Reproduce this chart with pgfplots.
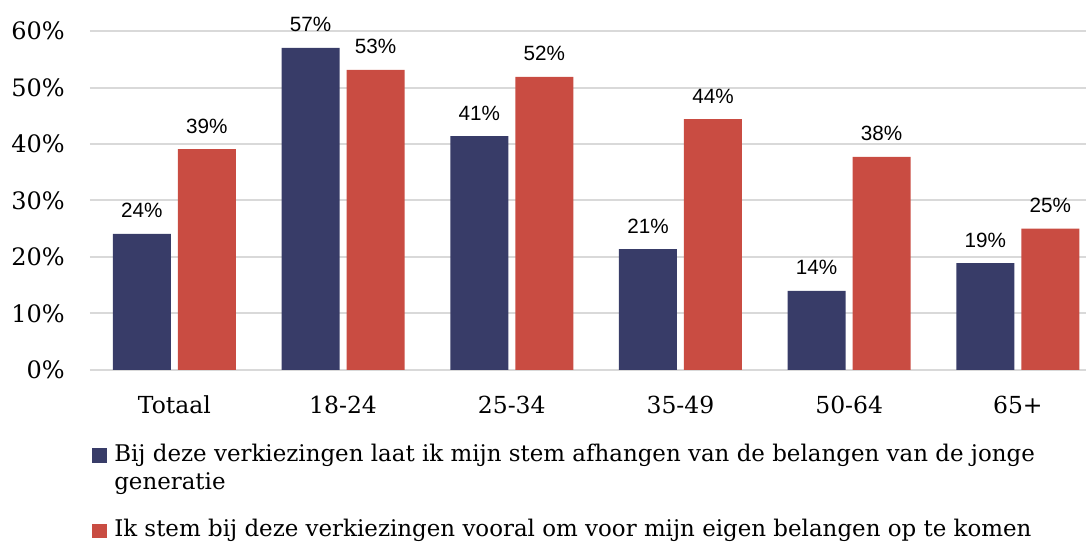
\documentclass[border=0pt]{standalone}
\usepackage{fontspec}
\setmainfont{DejaVu Serif}
\newfontfamily\labelfont{Liberation Sans}
\usepackage{pgfplots}
\pgfplotsset{compat=1.18}
\definecolor{navyc}{HTML}{383C68}
\definecolor{redc}{HTML}{C94C42}
\definecolor{gridc}{HTML}{D9D9D9}
\begin{document}
\begin{tikzpicture}
\useasboundingbox (0,0) rectangle (814.5pt,406.5pt);
\clip (0,0) rectangle (814.5pt,406.5pt);
\begin{axis}[
  at={(67.5pt,129pt)}, anchor=south west,
  scale only axis, width=747pt, height=254.25pt,
  ymin=0, ymax=60, xmin=-0.5, xmax=5.404,
  axis line style={draw=none}, tick style={draw=none},
  ymajorgrids, grid style={gridc, line width=1.5pt},
  /pgf/number format/assume math mode=true,
  ytick={0,10,20,30,40,50,60},
  yticklabel={\pgfmathprintnumber{\tick}\%},
  yticklabel style={anchor=east, inner sep=0pt, xshift=-18.75pt, font=\fontsize{18}{21}\selectfont},
  xtick={0,1,2,3,4,5},
  xticklabels={Totaal,18-24,25-34,35-49,50-64,65+},
  xticklabel style={anchor=base, inner sep=0pt, yshift=-28.5pt, font=\fontsize{17.6}{21}\selectfont},
  ybar=5.25pt, bar width=43.5pt,
  nodes near coords={\pgfmathprintnumber[fixed,precision=0]{\pgfplotspointmeta}\%},
  nodes near coords style={font=\labelfont\fontsize{15.5}{18}\selectfont, anchor=base, yshift=12pt, inner sep=0pt, text=black},
]
\addplot[fill=navyc, draw=none] coordinates {(0,24.1) (1,57.0) (2,41.4) (3,21.4) (4,14.0) (5,18.9)};
\addplot[fill=redc, draw=none] coordinates {(0,39.1) (1,53.1) (2,51.9) (3,44.4) (4,37.7) (5,25.0)};
\end{axis}
\fill[navyc] (69pt,59.25pt) rectangle (80.25pt,70.5pt);
\node[anchor=base west, inner sep=0pt, font=\fontsize{17.2}{21}\selectfont] at (85.5pt,60pt) {Bij deze verkiezingen laat ik mijn stem afhangen van de belangen van de jonge};
\node[anchor=base west, inner sep=0pt, font=\fontsize{17.2}{21}\selectfont] at (85.5pt,39pt) {generatie};
\fill[redc] (69pt,3pt) rectangle (80.25pt,13.5pt);
\node[anchor=base west, inner sep=0pt, font=\fontsize{17.2}{21}\selectfont] at (85.5pt,3.75pt) {Ik stem bij deze verkiezingen vooral om voor mijn eigen belangen op te komen};
\end{tikzpicture}
\end{document}
